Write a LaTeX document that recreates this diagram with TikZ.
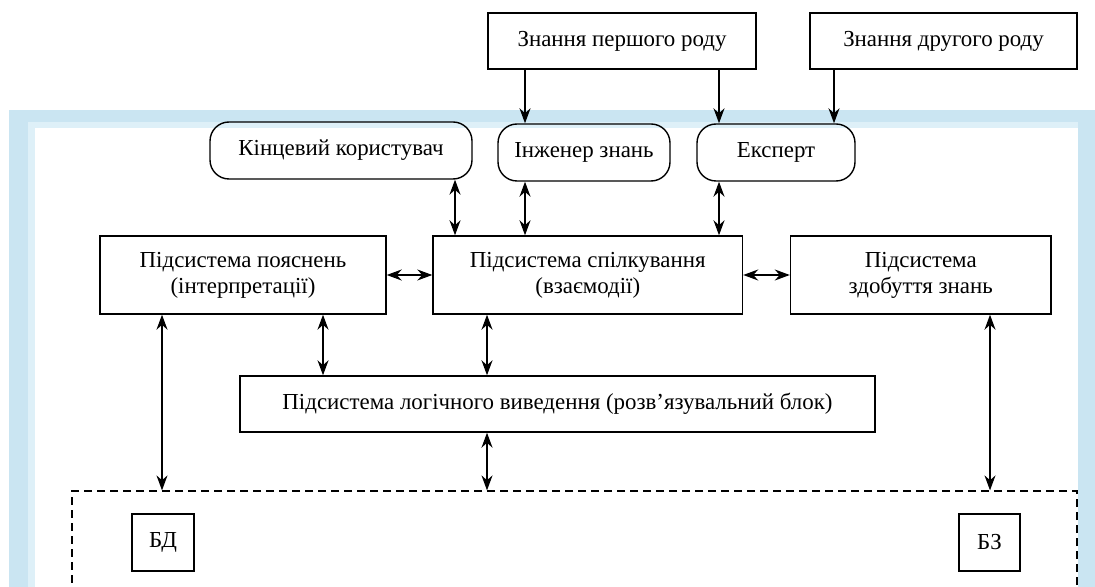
\documentclass[tikz,border=0pt]{standalone}
\usepackage{fontspec}
\setmainfont{Liberation Serif}
\usetikzlibrary{arrows.meta}
\definecolor{fondo}{RGB}{202,229,242}
\definecolor{fondochiaro}{RGB}{222,240,248}

\begin{document}
\begin{tikzpicture}[x=0.5pt,y=-0.5pt,
    blocco/.style={draw,line width=0.7pt,align=center,inner sep=0pt,
        font=\fontsize{11.45}{13}\selectfont},
    utente/.style={blocco,rounded corners=9.5pt},
    freccia/.style={line width=0.7pt,-{Stealth[length=7.5pt,width=5.5pt]}},
    doppia/.style={line width=0.7pt,{Stealth[length=7.5pt,width=5.5pt]}-{Stealth[length=7.5pt,width=5.5pt]}}]
        \useasboundingbox (0,0) rectangle (1095,587);

        % cornice di sfondo
        \fill[fondo] (9,110) rectangle (1095,587);
        \fill[fondochiaro] (28,122) rectangle (1078,587);
        \fill[white] (35,128) rectangle (1078,587);

        % fonti di conoscenza
        \node[blocco,minimum width=134pt,minimum height=28pt] (primo) at (622,41) {Знання першого роду};
        \node[blocco,minimum width=133.5pt,minimum height=28pt] (secondo) at (943.5,41) {Знання другого роду};

        % utenti
        \node[utente,minimum width=131pt,minimum height=28.5pt] (koryst) at (341,150.5) {Кінцевий користувач};
        \node[utente,minimum width=86pt,minimum height=28.5pt] (inzhener) at (584,152.5) {Інженер знань};
        \node[utente,minimum width=79pt,minimum height=28.5pt] (ekspert) at (776,152.5) {Експерт};

        % sottosistemi
        \node[blocco,minimum width=143pt,minimum height=39pt] (poyasn) at (243,275) {Підсистема пояснень\\(інтерпретації)};
        \node[blocco,minimum width=154.75pt,minimum height=39pt] (spilk) at (587.75,275) {Підсистема спілкування\\(взаємодії)};
        \node[blocco,minimum width=130.25pt,minimum height=39pt] (zdob) at (920.75,275) {Підсистема\\здобуття знань};
        \node[blocco,minimum width=317.5pt,minimum height=28pt] (logic) at (557.5,404) {Підсистема логічного виведення (розв’язувальний блок)};

        % basi
        \node[draw,dashed,dash pattern=on 4pt off 2.5pt,line width=0.6pt,minimum width=502.5pt,minimum height=64.5pt] (bazy) at (574.5,555.5) {};
        \node[blocco,minimum width=31pt,minimum height=28.5pt] (bd) at (163,542.5) {БД};
        \node[blocco,minimum width=30.5pt,minimum height=28.5pt] (bz) at (989.5,542.5) {БЗ};

        % frecce dall'alto
        \draw[freccia] (525,0 |- primo.south) -- (525,0 |- inzhener.north);
        \draw[freccia] (719,0 |- primo.south) -- (719,0 |- ekspert.north);
        \draw[freccia] (834,0 |- secondo.south) -- (834,0 |- ekspert.north);

        % frecce doppie
        \draw[doppia] (455,0 |- koryst.south) -- (455,0 |- spilk.north);
        \draw[doppia] (525,0 |- inzhener.south) -- (525,0 |- spilk.north);
        \draw[doppia] (719,0 |- ekspert.south) -- (719,0 |- spilk.north);
        \draw[doppia] (poyasn.east) -- (spilk.west);
        \draw[doppia] (spilk.east) -- (zdob.west);
        \draw[doppia] (162,0 |- poyasn.south) -- (162,0 |- bazy.north);
        \draw[doppia] (323,0 |- poyasn.south) -- (323,0 |- logic.north);
        \draw[doppia] (487,0 |- spilk.south) -- (487,0 |- logic.north);
        \draw[doppia] (487,0 |- logic.south) -- (487,0 |- bazy.north);
        \draw[doppia] (990,0 |- zdob.south) -- (990,0 |- bazy.north);
    \end{tikzpicture}
\end{document}
